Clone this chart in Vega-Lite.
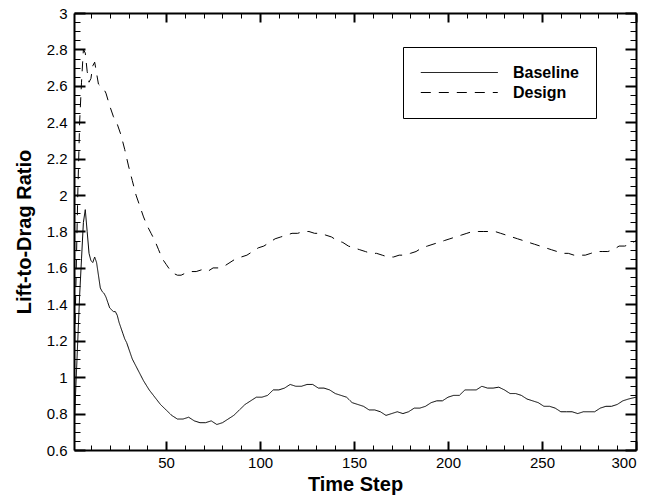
{
  "$schema": "https://vega.github.io/schema/vega-lite/v6.json",
  "autosize": {"type": "none"},
  "width": 562,
  "height": 437,
  "padding": {"left": 74, "top": 13, "right": 13, "bottom": 47},
  "background": "white",
  "config": {
    "view": {"stroke": null},
    "font": "Liberation Sans",
    "axis": {
      "grid": false,
      "domainColor": "black",
      "domainWidth": 2,
      "tickColor": "black",
      "labelColor": "black",
      "labelFont": "Liberation Sans",
      "labelFontSize": 15,
      "titleFont": "Liberation Sans",
      "titleFontSize": 20,
      "titleFontWeight": "bold",
      "titleColor": "black"
    }
  },
  "data": {
    "values": [
      {"s": 1, "series": "Baseline", "v": 0.7},
      {"s": 2, "series": "Baseline", "v": 0.95},
      {"s": 3, "series": "Baseline", "v": 1.2},
      {"s": 4, "series": "Baseline", "v": 1.45},
      {"s": 5, "series": "Baseline", "v": 1.65},
      {"s": 6, "series": "Baseline", "v": 1.85},
      {"s": 7, "series": "Baseline", "v": 1.92},
      {"s": 8, "series": "Baseline", "v": 1.8},
      {"s": 9, "series": "Baseline", "v": 1.68},
      {"s": 10, "series": "Baseline", "v": 1.64},
      {"s": 11, "series": "Baseline", "v": 1.63},
      {"s": 12, "series": "Baseline", "v": 1.66},
      {"s": 13, "series": "Baseline", "v": 1.63},
      {"s": 14, "series": "Baseline", "v": 1.56},
      {"s": 15, "series": "Baseline", "v": 1.49},
      {"s": 16, "series": "Baseline", "v": 1.47},
      {"s": 17, "series": "Baseline", "v": 1.46},
      {"s": 18, "series": "Baseline", "v": 1.44},
      {"s": 19, "series": "Baseline", "v": 1.41},
      {"s": 20, "series": "Baseline", "v": 1.38},
      {"s": 21, "series": "Baseline", "v": 1.37},
      {"s": 22, "series": "Baseline", "v": 1.36},
      {"s": 23, "series": "Baseline", "v": 1.36},
      {"s": 24, "series": "Baseline", "v": 1.34},
      {"s": 25, "series": "Baseline", "v": 1.3},
      {"s": 26, "series": "Baseline", "v": 1.27},
      {"s": 27, "series": "Baseline", "v": 1.24},
      {"s": 28, "series": "Baseline", "v": 1.21},
      {"s": 29, "series": "Baseline", "v": 1.19},
      {"s": 30, "series": "Baseline", "v": 1.16},
      {"s": 32, "series": "Baseline", "v": 1.1},
      {"s": 35, "series": "Baseline", "v": 1.04},
      {"s": 38, "series": "Baseline", "v": 0.98},
      {"s": 41, "series": "Baseline", "v": 0.93},
      {"s": 44, "series": "Baseline", "v": 0.89},
      {"s": 47, "series": "Baseline", "v": 0.85},
      {"s": 50, "series": "Baseline", "v": 0.82},
      {"s": 53, "series": "Baseline", "v": 0.79},
      {"s": 56, "series": "Baseline", "v": 0.77},
      {"s": 59, "series": "Baseline", "v": 0.77},
      {"s": 62, "series": "Baseline", "v": 0.78},
      {"s": 65, "series": "Baseline", "v": 0.76},
      {"s": 68, "series": "Baseline", "v": 0.75},
      {"s": 71, "series": "Baseline", "v": 0.75},
      {"s": 74, "series": "Baseline", "v": 0.76},
      {"s": 77, "series": "Baseline", "v": 0.74},
      {"s": 80, "series": "Baseline", "v": 0.75},
      {"s": 83, "series": "Baseline", "v": 0.77},
      {"s": 86, "series": "Baseline", "v": 0.79},
      {"s": 89, "series": "Baseline", "v": 0.82},
      {"s": 92, "series": "Baseline", "v": 0.85},
      {"s": 95, "series": "Baseline", "v": 0.87},
      {"s": 98, "series": "Baseline", "v": 0.89},
      {"s": 101, "series": "Baseline", "v": 0.89},
      {"s": 104, "series": "Baseline", "v": 0.9},
      {"s": 107, "series": "Baseline", "v": 0.93},
      {"s": 110, "series": "Baseline", "v": 0.93},
      {"s": 113, "series": "Baseline", "v": 0.94},
      {"s": 116, "series": "Baseline", "v": 0.96},
      {"s": 119, "series": "Baseline", "v": 0.95},
      {"s": 122, "series": "Baseline", "v": 0.95},
      {"s": 125, "series": "Baseline", "v": 0.96},
      {"s": 128, "series": "Baseline", "v": 0.96},
      {"s": 131, "series": "Baseline", "v": 0.94},
      {"s": 134, "series": "Baseline", "v": 0.94},
      {"s": 137, "series": "Baseline", "v": 0.93},
      {"s": 140, "series": "Baseline", "v": 0.91},
      {"s": 143, "series": "Baseline", "v": 0.9},
      {"s": 146, "series": "Baseline", "v": 0.89},
      {"s": 149, "series": "Baseline", "v": 0.86},
      {"s": 152, "series": "Baseline", "v": 0.85},
      {"s": 155, "series": "Baseline", "v": 0.84},
      {"s": 158, "series": "Baseline", "v": 0.82},
      {"s": 161, "series": "Baseline", "v": 0.82},
      {"s": 164, "series": "Baseline", "v": 0.81},
      {"s": 167, "series": "Baseline", "v": 0.79},
      {"s": 170, "series": "Baseline", "v": 0.8},
      {"s": 173, "series": "Baseline", "v": 0.81},
      {"s": 176, "series": "Baseline", "v": 0.8},
      {"s": 179, "series": "Baseline", "v": 0.81},
      {"s": 182, "series": "Baseline", "v": 0.83},
      {"s": 185, "series": "Baseline", "v": 0.83},
      {"s": 188, "series": "Baseline", "v": 0.84},
      {"s": 191, "series": "Baseline", "v": 0.86},
      {"s": 194, "series": "Baseline", "v": 0.87},
      {"s": 197, "series": "Baseline", "v": 0.87},
      {"s": 200, "series": "Baseline", "v": 0.89},
      {"s": 203, "series": "Baseline", "v": 0.9},
      {"s": 206, "series": "Baseline", "v": 0.9},
      {"s": 209, "series": "Baseline", "v": 0.93},
      {"s": 212, "series": "Baseline", "v": 0.93},
      {"s": 215, "series": "Baseline", "v": 0.93},
      {"s": 218, "series": "Baseline", "v": 0.95},
      {"s": 221, "series": "Baseline", "v": 0.94},
      {"s": 224, "series": "Baseline", "v": 0.94},
      {"s": 227, "series": "Baseline", "v": 0.945},
      {"s": 230, "series": "Baseline", "v": 0.93},
      {"s": 233, "series": "Baseline", "v": 0.91},
      {"s": 236, "series": "Baseline", "v": 0.91},
      {"s": 239, "series": "Baseline", "v": 0.9},
      {"s": 242, "series": "Baseline", "v": 0.88},
      {"s": 245, "series": "Baseline", "v": 0.87},
      {"s": 248, "series": "Baseline", "v": 0.86},
      {"s": 251, "series": "Baseline", "v": 0.84},
      {"s": 254, "series": "Baseline", "v": 0.84},
      {"s": 257, "series": "Baseline", "v": 0.83},
      {"s": 260, "series": "Baseline", "v": 0.81},
      {"s": 263, "series": "Baseline", "v": 0.81},
      {"s": 266, "series": "Baseline", "v": 0.81},
      {"s": 269, "series": "Baseline", "v": 0.8},
      {"s": 272, "series": "Baseline", "v": 0.81},
      {"s": 275, "series": "Baseline", "v": 0.81},
      {"s": 278, "series": "Baseline", "v": 0.81},
      {"s": 281, "series": "Baseline", "v": 0.83},
      {"s": 284, "series": "Baseline", "v": 0.84},
      {"s": 287, "series": "Baseline", "v": 0.84},
      {"s": 290, "series": "Baseline", "v": 0.85},
      {"s": 293, "series": "Baseline", "v": 0.87},
      {"s": 296, "series": "Baseline", "v": 0.88},
      {"s": 300, "series": "Baseline", "v": 0.89},
      {"s": 1, "series": "Design", "v": 1.0},
      {"s": 2, "series": "Design", "v": 1.5},
      {"s": 3, "series": "Design", "v": 2.0},
      {"s": 4, "series": "Design", "v": 2.4},
      {"s": 5, "series": "Design", "v": 2.62},
      {"s": 6, "series": "Design", "v": 2.8},
      {"s": 7, "series": "Design", "v": 2.78},
      {"s": 8, "series": "Design", "v": 2.68},
      {"s": 9, "series": "Design", "v": 2.62},
      {"s": 10, "series": "Design", "v": 2.64},
      {"s": 11, "series": "Design", "v": 2.71},
      {"s": 12, "series": "Design", "v": 2.73},
      {"s": 13, "series": "Design", "v": 2.67},
      {"s": 14, "series": "Design", "v": 2.61},
      {"s": 15, "series": "Design", "v": 2.6},
      {"s": 16, "series": "Design", "v": 2.59},
      {"s": 17, "series": "Design", "v": 2.58},
      {"s": 18, "series": "Design", "v": 2.56},
      {"s": 20, "series": "Design", "v": 2.49},
      {"s": 22, "series": "Design", "v": 2.43},
      {"s": 24, "series": "Design", "v": 2.39},
      {"s": 26, "series": "Design", "v": 2.33},
      {"s": 28, "series": "Design", "v": 2.25},
      {"s": 30, "series": "Design", "v": 2.16},
      {"s": 32, "series": "Design", "v": 2.08},
      {"s": 34, "series": "Design", "v": 2.0},
      {"s": 36, "series": "Design", "v": 1.94},
      {"s": 38, "series": "Design", "v": 1.88},
      {"s": 40, "series": "Design", "v": 1.83},
      {"s": 42, "series": "Design", "v": 1.79},
      {"s": 44, "series": "Design", "v": 1.75},
      {"s": 46, "series": "Design", "v": 1.7},
      {"s": 48, "series": "Design", "v": 1.65},
      {"s": 50, "series": "Design", "v": 1.62},
      {"s": 52, "series": "Design", "v": 1.59},
      {"s": 54, "series": "Design", "v": 1.57},
      {"s": 56, "series": "Design", "v": 1.56},
      {"s": 58, "series": "Design", "v": 1.56},
      {"s": 60, "series": "Design", "v": 1.57},
      {"s": 63, "series": "Design", "v": 1.58},
      {"s": 66, "series": "Design", "v": 1.58},
      {"s": 69, "series": "Design", "v": 1.59},
      {"s": 72, "series": "Design", "v": 1.58},
      {"s": 75, "series": "Design", "v": 1.6},
      {"s": 78, "series": "Design", "v": 1.6},
      {"s": 81, "series": "Design", "v": 1.61},
      {"s": 84, "series": "Design", "v": 1.63},
      {"s": 87, "series": "Design", "v": 1.65},
      {"s": 90, "series": "Design", "v": 1.66},
      {"s": 93, "series": "Design", "v": 1.67},
      {"s": 96, "series": "Design", "v": 1.69},
      {"s": 99, "series": "Design", "v": 1.71},
      {"s": 102, "series": "Design", "v": 1.72},
      {"s": 105, "series": "Design", "v": 1.74},
      {"s": 108, "series": "Design", "v": 1.76},
      {"s": 111, "series": "Design", "v": 1.77},
      {"s": 114, "series": "Design", "v": 1.78},
      {"s": 117, "series": "Design", "v": 1.79},
      {"s": 120, "series": "Design", "v": 1.79},
      {"s": 123, "series": "Design", "v": 1.8},
      {"s": 126, "series": "Design", "v": 1.8},
      {"s": 129, "series": "Design", "v": 1.79},
      {"s": 132, "series": "Design", "v": 1.79},
      {"s": 135, "series": "Design", "v": 1.78},
      {"s": 138, "series": "Design", "v": 1.77},
      {"s": 141, "series": "Design", "v": 1.75},
      {"s": 144, "series": "Design", "v": 1.74},
      {"s": 147, "series": "Design", "v": 1.72},
      {"s": 150, "series": "Design", "v": 1.71},
      {"s": 153, "series": "Design", "v": 1.7},
      {"s": 156, "series": "Design", "v": 1.69},
      {"s": 159, "series": "Design", "v": 1.68},
      {"s": 162, "series": "Design", "v": 1.68},
      {"s": 165, "series": "Design", "v": 1.67},
      {"s": 168, "series": "Design", "v": 1.66},
      {"s": 171, "series": "Design", "v": 1.66},
      {"s": 174, "series": "Design", "v": 1.67},
      {"s": 177, "series": "Design", "v": 1.67},
      {"s": 180, "series": "Design", "v": 1.68},
      {"s": 183, "series": "Design", "v": 1.69},
      {"s": 186, "series": "Design", "v": 1.71},
      {"s": 189, "series": "Design", "v": 1.72},
      {"s": 192, "series": "Design", "v": 1.73},
      {"s": 195, "series": "Design", "v": 1.74},
      {"s": 198, "series": "Design", "v": 1.75},
      {"s": 201, "series": "Design", "v": 1.76},
      {"s": 204, "series": "Design", "v": 1.77},
      {"s": 207, "series": "Design", "v": 1.78},
      {"s": 210, "series": "Design", "v": 1.79},
      {"s": 213, "series": "Design", "v": 1.8},
      {"s": 216, "series": "Design", "v": 1.8},
      {"s": 219, "series": "Design", "v": 1.8},
      {"s": 222, "series": "Design", "v": 1.8},
      {"s": 225, "series": "Design", "v": 1.8},
      {"s": 228, "series": "Design", "v": 1.79},
      {"s": 231, "series": "Design", "v": 1.78},
      {"s": 234, "series": "Design", "v": 1.77},
      {"s": 237, "series": "Design", "v": 1.76},
      {"s": 240, "series": "Design", "v": 1.75},
      {"s": 243, "series": "Design", "v": 1.74},
      {"s": 246, "series": "Design", "v": 1.73},
      {"s": 249, "series": "Design", "v": 1.72},
      {"s": 252, "series": "Design", "v": 1.71},
      {"s": 255, "series": "Design", "v": 1.7},
      {"s": 258, "series": "Design", "v": 1.69},
      {"s": 261, "series": "Design", "v": 1.68},
      {"s": 264, "series": "Design", "v": 1.68},
      {"s": 267, "series": "Design", "v": 1.67},
      {"s": 270, "series": "Design", "v": 1.67},
      {"s": 273, "series": "Design", "v": 1.67},
      {"s": 276, "series": "Design", "v": 1.68},
      {"s": 279, "series": "Design", "v": 1.69},
      {"s": 282, "series": "Design", "v": 1.69},
      {"s": 285, "series": "Design", "v": 1.69},
      {"s": 288, "series": "Design", "v": 1.7},
      {"s": 291, "series": "Design", "v": 1.72},
      {"s": 294, "series": "Design", "v": 1.72},
      {"s": 297, "series": "Design", "v": 1.73},
      {"s": 300, "series": "Design", "v": 1.75}
    ]
  },
  "resolve": {"axis": {"x": "independent", "y": "independent"}},
  "layer": [
    {
      "mark": {"type": "line", "color": "black", "strokeWidth": 1, "clip": true},
      "encoding": {
        "x": {"field": "s", "type": "quantitative", "scale": {"domain": [1, 300], "nice": false, "zero": false},
          "axis": {"orient": "bottom", "title": "Time Step", "values": [50, 100, 150, 200, 250, 300], "ticks": false, "labelPadding": 5, "titlePadding": 4}},
        "y": {"field": "v", "type": "quantitative", "scale": {"domain": [0.6, 3], "nice": false, "zero": false},
          "axis": {"orient": "left", "title": "Lift-to-Drag Ratio", "values": [0.6, 0.8, 1, 1.2, 1.4, 1.6, 1.8, 2, 2.2, 2.4, 2.6, 2.8, 3], "ticks": false, "labelPadding": 7, "titlePadding": 12, "labelExpr": "toString(round(datum.value*10)/10)"}},
        "strokeDash": {"field": "series", "type": "nominal",
          "scale": {"domain": ["Baseline", "Design"], "range": [[1, 0], [10, 8]]},
          "legend": {"title": null, "orient": "none", "legendX": 329, "legendY": 34, "strokeColor": "black", "fillColor": "white", "padding": 17,
            "symbolType": "M-1,0H9", "symbolSize": 237, "symbolStrokeWidth": 1, "symbolStrokeColor": "black",
            "labelFont": "Liberation Sans", "labelFontSize": 16, "labelFontWeight": "bold", "labelColor": "black", "labelOffset": 76, "rowPadding": 3}}
      }
    },
    {
      "mark": {"type": "line", "opacity": 0},
      "encoding": {
        "x": {"field": "s", "type": "quantitative", "axis": {"orient": "bottom", "title": null, "labels": false, "domain": false, "values": [50, 100, 150, 200, 250, 300], "tickSize": -9, "tickWidth": 2}},
        "y": {"field": "v", "type": "quantitative", "axis": {"orient": "left", "title": null, "labels": false, "domain": false, "values": [0.6, 0.8, 1, 1.2, 1.4, 1.6, 1.8, 2, 2.2, 2.4, 2.6, 2.8, 3], "tickSize": -11, "tickWidth": 2}}
      }
    },
    {
      "mark": {"type": "line", "opacity": 0},
      "encoding": {
        "x": {"field": "s", "type": "quantitative", "axis": {"orient": "bottom", "title": null, "labels": false, "domain": false, "values": [10, 20, 30, 40, 60, 70, 80, 90, 110, 120, 130, 140, 160, 170, 180, 190, 210, 220, 230, 240, 260, 270, 280, 290], "tickSize": -5, "tickWidth": 1}},
        "y": {"field": "v", "type": "quantitative", "axis": {"orient": "left", "title": null, "labels": false, "domain": false, "values": [0.65, 0.7, 0.75, 0.85, 0.9, 0.95, 1.05, 1.1, 1.15, 1.25, 1.3, 1.35, 1.45, 1.5, 1.55, 1.65, 1.7, 1.75, 1.85, 1.9, 1.95, 2.05, 2.1, 2.15, 2.25, 2.3, 2.35, 2.45, 2.5, 2.55, 2.65, 2.7, 2.75, 2.85, 2.9, 2.95], "tickSize": -6, "tickWidth": 1}}
      }
    },
    {
      "mark": {"type": "line", "opacity": 0},
      "encoding": {
        "x": {"field": "s", "type": "quantitative", "axis": {"orient": "top", "title": null, "labels": false, "domain": true, "values": [50, 100, 150, 200, 250, 300], "tickSize": -9, "tickWidth": 2}},
        "y": {"field": "v", "type": "quantitative", "axis": {"orient": "right", "title": null, "labels": false, "domain": true, "values": [0.6, 0.8, 1, 1.2, 1.4, 1.6, 1.8, 2, 2.2, 2.4, 2.6, 2.8, 3], "tickSize": -11, "tickWidth": 2}}
      }
    },
    {
      "mark": {"type": "line", "opacity": 0},
      "encoding": {
        "x": {"field": "s", "type": "quantitative", "axis": {"orient": "top", "title": null, "labels": false, "domain": false, "values": [10, 20, 30, 40, 60, 70, 80, 90, 110, 120, 130, 140, 160, 170, 180, 190, 210, 220, 230, 240, 260, 270, 280, 290], "tickSize": -5, "tickWidth": 1}},
        "y": {"field": "v", "type": "quantitative", "axis": {"orient": "right", "title": null, "labels": false, "domain": false, "values": [0.65, 0.7, 0.75, 0.85, 0.9, 0.95, 1.05, 1.1, 1.15, 1.25, 1.3, 1.35, 1.45, 1.5, 1.55, 1.65, 1.7, 1.75, 1.85, 1.9, 1.95, 2.05, 2.1, 2.15, 2.25, 2.3, 2.35, 2.45, 2.5, 2.55, 2.65, 2.7, 2.75, 2.85, 2.9, 2.95], "tickSize": -6, "tickWidth": 1}}
      }
    }
  ]
}
